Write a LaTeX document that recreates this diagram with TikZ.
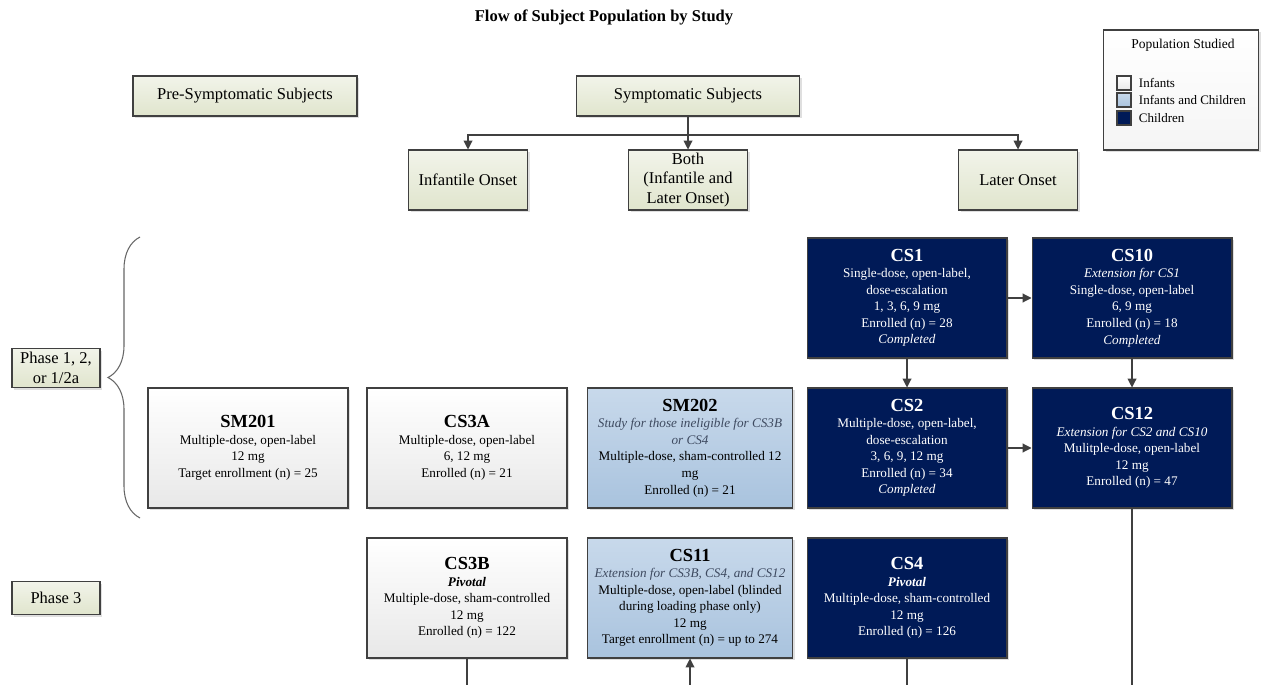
\documentclass[tikz,border=0pt]{standalone}
\usepackage{fontspec}
\setmainfont{Liberation Serif}
\usetikzlibrary{arrows.meta, positioning, shadows, decorations.pathreplacing}
\definecolor{linegray}{HTML}{404040}
\definecolor{hdrtop}{HTML}{F2F4EA}
\definecolor{hdrbot}{HTML}{E0E5CD}
\definecolor{infbot}{HTML}{E8E8E8}
\definecolor{mixtop}{HTML}{C8D9EB}
\definecolor{mixbot}{HTML}{A9C3DE}
\definecolor{navy}{HTML}{001A57}
\definecolor{notegray}{HTML}{3E4A60}
\newcommand{\studyname}[1]{{\fontsize{10.5}{12}\selectfont\bfseries #1}}

\begin{document}
\begin{tikzpicture}[x=0.02cm, y=-0.02cm,
      hdr/.style={draw=linegray, semithick, top color=hdrtop, bottom color=hdrbot,
                  drop shadow={shadow xshift=1.2pt, shadow yshift=-1.2pt, opacity=0.25},
                  font=\fontsize{9.4}{11}\selectfont, align=center, inner sep=1pt},
      study/.style={draw=linegray, semithick, minimum width=4cm, minimum height=2.4cm,
                  drop shadow={shadow xshift=1.2pt, shadow yshift=-1.2pt, opacity=0.25},
                  font=\fontsize{7.5}{9.4}\selectfont, align=center, inner sep=1pt},
      infant/.style={study, top color=white, bottom color=infbot},
      mixed/.style={study, top color=mixtop, bottom color=mixbot, minimum width=4.1cm},
      child/.style={study, fill=navy, text=white},
      swatch/.style={draw=linegray, semithick, minimum size=0.28cm, inner sep=0pt},
      legtext/.style={font=\fontsize{7.4}{8}\selectfont, inner sep=1pt},
      lnk/.style={-{Triangle[length=5pt, width=5pt]}, linegray, semithick},
      wire/.style={linegray, semithick}
    ]
      \useasboundingbox (0,0) rectangle (1263,685);

      \node[font=\fontsize{9.4}{11}\selectfont\bfseries] (title) at (604,17) {Flow of Subject Population by Study};

      \node[draw=linegray, semithick, top color=white, bottom color=gray!8, minimum width=3.1cm, minimum height=2.4cm,
            drop shadow={shadow xshift=1.2pt, shadow yshift=-1.2pt, opacity=0.25}] (legend) at (1181,90) {};
      \node[font=\fontsize{7.7}{9}\selectfont] (legtitle) at (1183,45) {Population Studied};
      \node[swatch, top color=white, bottom color=infbot] (swinf) at (1124,83) {};
      \node[swatch, top color=mixtop, bottom color=mixbot] (swmix) at (1124,100) {};
      \node[swatch, fill=navy] (swch) at (1124,118) {};
      \node[legtext, right=3pt of swinf] {Infants};
      \node[legtext, right=3pt of swmix] {Infants and Children};
      \node[legtext, right=3pt of swch] {Children};

      \node[hdr, minimum width=4.48cm, minimum height=0.8cm] (presym) at (245,96) {Pre-Symptomatic Subjects};
      \node[hdr, minimum width=4.46cm, minimum height=0.8cm] (sym) at (688,96) {Symptomatic Subjects};
      \node[hdr, minimum width=2.38cm, minimum height=1.2cm] (infon) at (468,180) {Infantile Onset};
      \node[hdr, minimum width=2.38cm, minimum height=1.2cm] (bothon) at (688,180) {Both\\(Infantile and\\Later Onset)};
      \node[hdr, minimum width=2.38cm, minimum height=1.2cm] (lateon) at (1018,180) {Later Onset};

      \node[hdr, minimum width=1.76cm, minimum height=0.78cm] (ph12) at (56,368) {Phase 1, 2,\\or 1/2a};
      \node[hdr, minimum width=1.76cm, minimum height=0.66cm] (ph3) at (56,598) {Phase 3};

      \node[child] (cs1) at (907,298) {\studyname{CS1}\\Single-dose, open-label,\\dose-escalation\\1, 3, 6, 9 mg\\Enrolled (n) = 28\\\textit{Completed}};
      \node[child] (cs10) at (1132,298) {\studyname{CS10}\\\textit{Extension for CS1}\\Single-dose, open-label\\6, 9 mg\\Enrolled (n) = 18\\\textit{Completed}};

      \node[infant] (sm201) at (248,448) {\studyname{SM201}\\Multiple-dose, open-label\\12 mg\\Target enrollment (n) = 25};
      \node[infant] (cs3a) at (467,448) {\studyname{CS3A}\\Multiple-dose, open-label\\6, 12 mg\\Enrolled (n) = 21};
      \node[mixed] (sm202) at (690,448) {\studyname{SM202}\\\textcolor{notegray}{\textit{Study for those ineligible for CS3B}}\\\textcolor{notegray}{\textit{or CS4}}\\Multiple-dose, sham-controlled 12\\mg\\Enrolled (n) = 21};
      \node[child] (cs2) at (907,448) {\studyname{CS2}\\Multiple-dose, open-label,\\dose-escalation\\3, 6, 9, 12 mg\\Enrolled (n) = 34\\\textit{Completed}};
      \node[child] (cs12) at (1132,448) {\studyname{CS12}\\\textit{Extension for CS2 and CS10}\\Mulitple-dose, open-label\\12 mg\\Enrolled (n) = 47};

      \node[infant] (cs3b) at (467,598) {\studyname{CS3B}\\\textbf{\textit{Pivotal}}\\Multiple-dose, sham-controlled\\12 mg\\Enrolled (n) = 122};
      \node[mixed] (cs11) at (690,598) {\studyname{CS11}\\\textcolor{notegray}{\textit{Extension for CS3B, CS4, and CS12}}\\Multiple-dose, open-label (blinded\\during loading phase only)\\12 mg\\Target enrollment (n) = up to 274};
      \node[child] (cs4) at (907,598) {\studyname{CS4}\\\textbf{\textit{Pivotal}}\\Multiple-dose, sham-controlled\\12 mg\\Enrolled (n) = 126};

      \draw[gray!80!black, semithick, decorate, decoration={brace, amplitude=0.64cm}] (140,518) -- (140,237);

      \coordinate (split) at (688,135);
      \draw[wire] (sym) -- (split);
      \draw[lnk] (split) -| (infon);
      \draw[lnk] (split) -- (bothon);
      \draw[lnk] (split) -| (lateon);

      \draw[lnk] (cs1) -- (cs10);
      \draw[lnk] (cs1) -- (cs2);
      \draw[lnk] (cs10) -- (cs12);
      \draw[lnk] (cs2) -- (cs12);

      \coordinate (cs3bout) at (467,685);
      \coordinate (cs11in) at (690,685);
      \coordinate (cs4out) at (907,685);
      \coordinate (cs12out) at (1132,685);
      \draw[wire] (cs3b) -- (cs3bout);
      \draw[lnk] (cs11in) -- (cs11);
      \draw[wire] (cs4) -- (cs4out);
      \draw[wire] (cs12) -- (cs12out);
    \end{tikzpicture}
\end{document}
